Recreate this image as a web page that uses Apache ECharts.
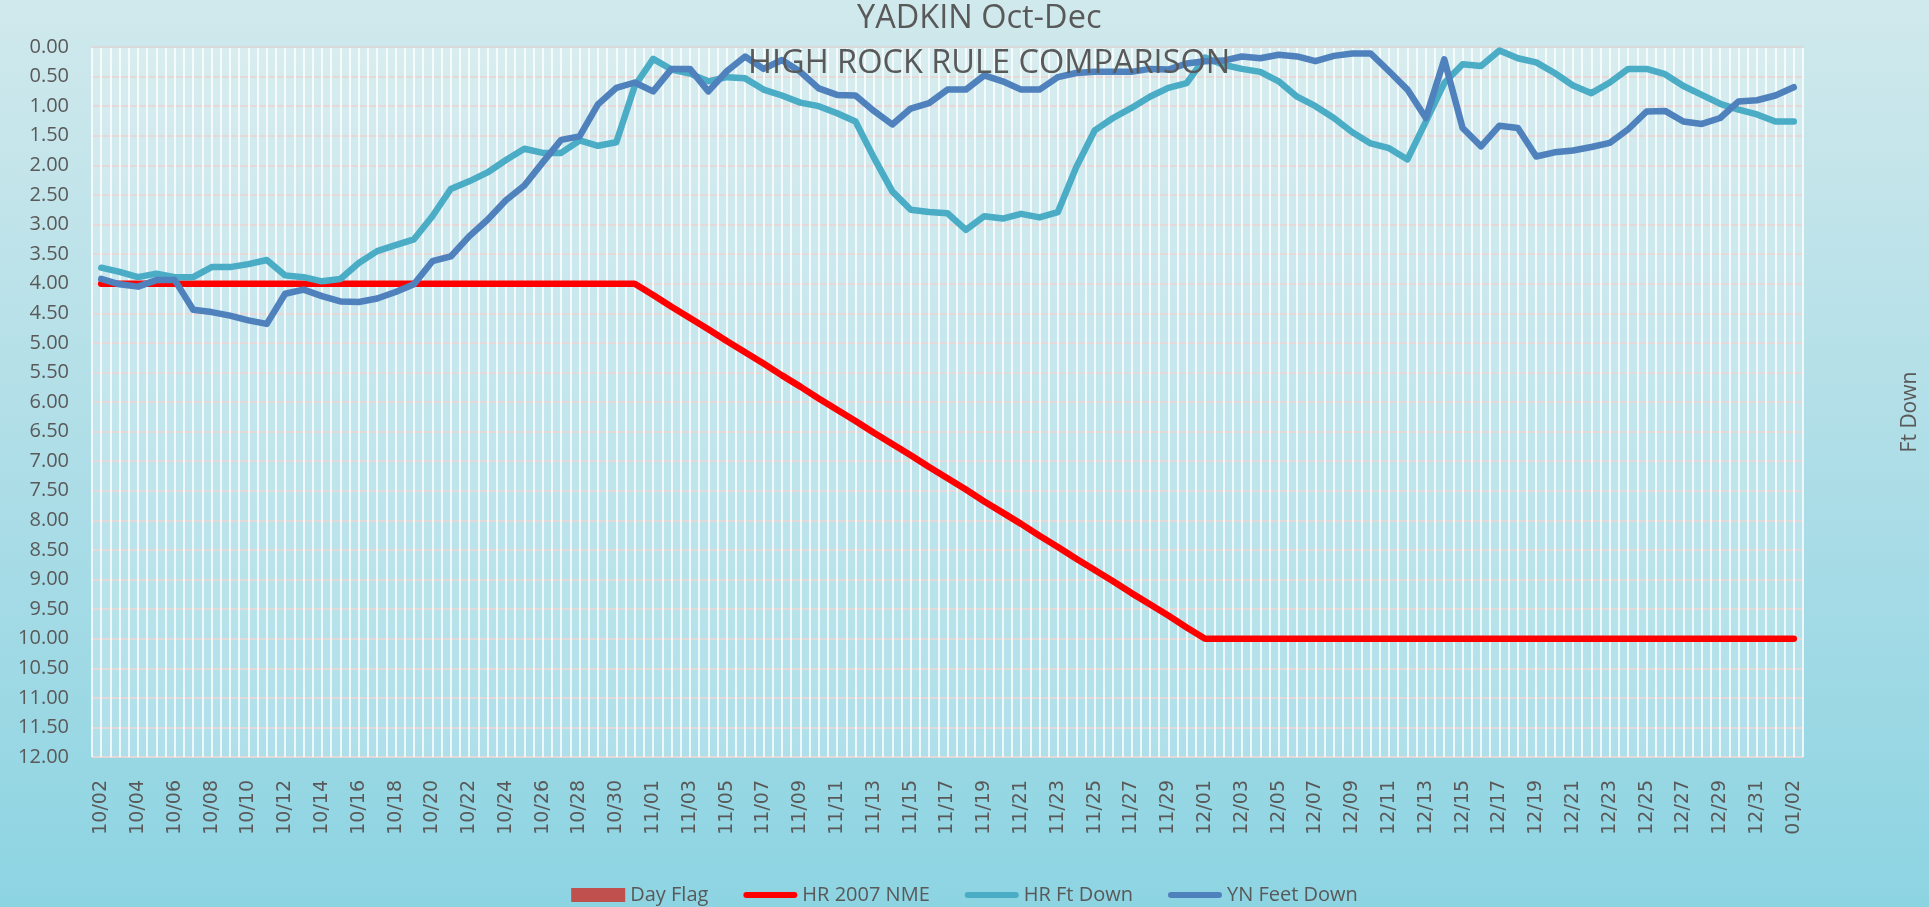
<!DOCTYPE html>
<html>
<head>
<meta charset="utf-8">
<script src="https://cdn.jsdelivr.net/npm/echarts@6/dist/echarts.min.js"></script>
<style>
html,body{margin:0;padding:0;width:1929px;height:907px;overflow:hidden;}
#chart{width:1929px;height:907px;}
</style>
</head>
<body>
<div id="chart"></div>
<script>
const categories = [
'10/02','10/03','10/04','10/05','10/06','10/07','10/08','10/09','10/10','10/11',
'10/12','10/13','10/14','10/15','10/16','10/17','10/18','10/19','10/20','10/21',
'10/22','10/23','10/24','10/25','10/26','10/27','10/28','10/29','10/30','10/31',
'11/01','11/02','11/03','11/04','11/05','11/06','11/07','11/08','11/09','11/10',
'11/11','11/12','11/13','11/14','11/15','11/16','11/17','11/18','11/19','11/20',
'11/21','11/22','11/23','11/24','11/25','11/26','11/27','11/28','11/29','11/30',
'12/01','12/02','12/03','12/04','12/05','12/06','12/07','12/08','12/09','12/10',
'12/11','12/12','12/13','12/14','12/15','12/16','12/17','12/18','12/19','12/20',
'12/21','12/22','12/23','12/24','12/25','12/26','12/27','12/28','12/29','12/30',
'12/31','01/01','01/02'
];

const dayFlag = [];

const hr2007Nme = [
4.00,4.00,4.00,4.00,4.00,4.00,4.00,4.00,4.00,4.00,
4.00,4.00,4.00,4.00,4.00,4.00,4.00,4.00,4.00,4.00,
4.00,4.00,4.00,4.00,4.00,4.00,4.00,4.00,4.00,4.00,
4.19,4.39,4.58,4.77,4.97,5.16,5.35,5.55,5.74,5.94,
6.13,6.32,6.52,6.71,6.90,7.10,7.29,7.48,7.68,7.87,
8.06,8.26,8.45,8.65,8.84,9.03,9.23,9.42,9.61,9.81,
10.00,10.00,10.00,10.00,10.00,10.00,10.00,10.00,10.00,10.00,
10.00,10.00,10.00,10.00,10.00,10.00,10.00,10.00,10.00,10.00,
10.00,10.00,10.00,10.00,10.00,10.00,10.00,10.00,10.00,10.00,
10.00,10.00,10.00
];

const hrFtDown = [
3.73,3.80,3.89,3.83,3.89,3.89,3.72,3.72,3.67,3.60,
3.86,3.89,3.96,3.92,3.65,3.45,3.35,3.25,2.86,2.40,
2.27,2.12,1.91,1.72,1.79,1.79,1.58,1.67,1.61,0.66,
0.20,0.38,0.45,0.58,0.51,0.53,0.72,0.82,0.94,1.00,
1.12,1.26,1.87,2.44,2.75,2.79,2.81,3.09,2.86,2.90,
2.82,2.88,2.79,2.03,1.41,1.20,1.03,0.84,0.69,0.61,
0.18,0.30,0.37,0.42,0.58,0.84,1.00,1.20,1.44,1.63,
1.71,1.90,1.26,0.61,0.29,0.32,0.06,0.19,0.26,0.44,
0.65,0.78,0.60,0.37,0.37,0.46,0.66,0.81,0.96,1.06,
1.14,1.26,1.26
];

const ynFeetDown = [
3.92,4.01,4.05,3.94,3.94,4.44,4.48,4.54,4.62,4.68,
4.17,4.10,4.21,4.30,4.31,4.25,4.14,4.01,3.62,3.54,
3.20,2.92,2.59,2.34,1.95,1.57,1.51,0.97,0.69,0.60,
0.75,0.37,0.37,0.75,0.41,0.16,0.37,0.22,0.42,0.70,
0.81,0.82,1.08,1.31,1.04,0.95,0.72,0.72,0.48,0.58,
0.72,0.72,0.51,0.44,0.42,0.42,0.42,0.37,0.38,0.28,
0.24,0.23,0.16,0.19,0.13,0.16,0.24,0.15,0.11,0.11,
0.41,0.72,1.20,0.21,1.37,1.68,1.33,1.37,1.85,1.78,
1.75,1.69,1.62,1.39,1.09,1.08,1.26,1.30,1.20,0.92,
0.90,0.82,0.68
];

const titleLines = ['YADKIN Oct-Dec', 'HIGH ROCK RULE COMPARISON'];
const secondaryAxisName = 'Ft Down';

const txt = '#595959';
const font = 'Open Sans';
const lineIcon = 'path://M3,0 L51,0 A3,3 0 0 1 51,6 L3,6 A3,3 0 0 1 3,0 Z';

const chart = echarts.init(document.getElementById('chart'), null, {renderer: 'canvas'});
chart.setOption({
  animation: false,
  backgroundColor: {
    type: 'linear', x: 0, y: 0, x2: 0, y2: 1,
    colorStops: [
      {offset: 0, color: '#d0e9ec'},
      {offset: 0.45, color: '#b2dfe8'},
      {offset: 1, color: '#8dd4e2'}
    ]
  },
  title: [
    {text: titleLines[0], left: 857, top: 2, padding: 0,
     textStyle: {fontFamily: font, fontSize: 32.5, fontWeight: 'normal', color: txt}},
    {text: titleLines[1], left: 748, top: 47, padding: 0,
     textStyle: {fontFamily: font, fontSize: 32.5, fontWeight: 'normal', color: txt}}
  ],
  legend: {
    top: 880, left: 'center',
    itemGap: 35, itemWidth: 54, itemHeight: 14,
    symbolKeepAspect: true,
    textStyle: {fontFamily: font, fontSize: 20, color: txt},
    data: [
      {name: 'Day Flag', icon: 'rect'},
      {name: 'HR 2007 NME', icon: lineIcon},
      {name: 'HR Ft Down', icon: lineIcon},
      {name: 'YN Feet Down', icon: lineIcon}
    ]
  },
  grid: {
    left: 92, right: 126, top: 47, bottom: 150,
    show: true, backgroundColor: 'rgba(255,255,255,0.22)', borderWidth: 0
  },
  xAxis: [
    {
      type: 'category', data: categories, boundaryGap: true,
      axisLine: {show: true, lineStyle: {color: '#d9d9d9', width: 2}},
      axisTick: {show: false},
      splitLine: {show: false},
      axisLabel: {interval: 1, rotate: 90, margin: 23, fontFamily: 'DejaVu Sans', fontSize: 19, color: txt}
    },
    {
      type: 'value', min: 0, max: 186, interval: 1, position: 'bottom',
      axisLine: {show: false}, axisTick: {show: false}, axisLabel: {show: false},
      splitLine: {show: true, lineStyle: {color: 'rgba(255,255,255,0.95)', width: 1.6}}
    }
  ],
  yAxis: [
    {
      type: 'value', inverse: true, min: 0, max: 12, interval: 0.5,
      axisLine: {show: false}, axisTick: {show: false},
      axisLabel: {margin: 23, fontFamily: font, fontSize: 20, color: txt,
        formatter: v => v.toFixed(2)},
      splitLine: {show: true, lineStyle: {color: '#e4d8d8', width: 2}}
    },
    {
      type: 'value', position: 'right', min: 0, max: 12,
      name: secondaryAxisName, nameLocation: 'middle', nameRotate: 90, nameGap: 97,
      nameTextStyle: {fontFamily: font, fontSize: 21, color: txt, padding: [0, 20, 0, 0]},
      axisLine: {show: false}, axisTick: {show: false}, axisLabel: {show: false},
      splitLine: {show: false}
    }
  ],
  series: [
    {name: 'Day Flag', type: 'bar', yAxisIndex: 1, data: dayFlag, itemStyle: {color: '#c0504d'}},
    {name: 'HR 2007 NME', type: 'line', data: hr2007Nme, symbol: 'none',
     lineStyle: {color: '#ff0000', width: 6.5, cap: 'round', join: 'round'}, itemStyle: {color: '#ff0000'}},
    {name: 'HR Ft Down', type: 'line', data: hrFtDown, symbol: 'none',
     lineStyle: {color: '#4bacc6', width: 6.5, cap: 'round', join: 'round'}, itemStyle: {color: '#4bacc6'}},
    {name: 'YN Feet Down', type: 'line', data: ynFeetDown, symbol: 'none',
     lineStyle: {color: '#4f81bd', width: 6.5, cap: 'round', join: 'round'}, itemStyle: {color: '#4f81bd'}}
  ]
});
</script>
</body>
</html>
